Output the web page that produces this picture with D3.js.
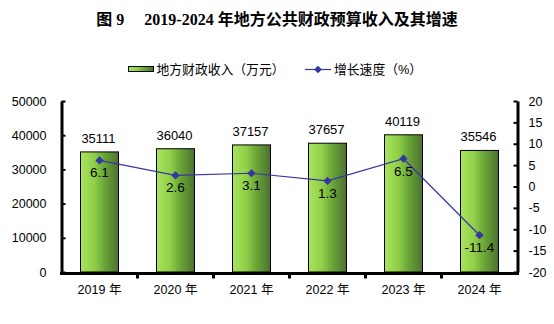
<!DOCTYPE html>
<html>
<head>
<meta charset="utf-8">
<script src="https://cdn.jsdelivr.net/npm/d3@7"></script>
<style>
  html, body { margin: 0; padding: 0; background: #fff; }
  svg { display: block; }
</style>
</head>
<body>
<svg id="chart" width="554" height="324"></svg>
<script>
// Local general public budget revenue (10k yuan) and its growth rate (%)
const years = ["2019 年", "2020 年", "2021 年", "2022 年", "2023 年", "2024 年"];
const revenue = [35111, 36040, 37157, 37657, 40119, 35546];
const growth = [6.1, 2.6, 3.1, 1.3, 6.5, -11.4];
const leftTicks = [0, 10000, 20000, 30000, 40000, 50000];
const rightTicks = [-20, -15, -10, -5, 0, 5, 10, 15, 20];

const titleText = "图 9\u3000\u00a02019-2024 年地方公共财政预算收入及其增速";
const legendBar = "地方财政收入（万元）";
const legendLine = "增长速度（%）";

const latin = "'Liberation Sans', Arial, 'Noto Sans CJK SC', sans-serif";
const serif = "'Liberation Serif', 'Noto Sans CJK SC', serif";
const lineColor = "#3535a5";
const plain = d => String(d);

const svg = d3.select("#chart");

// gradient for the bars
const defs = svg.append("defs");
const grad = defs.append("linearGradient").attr("id", "barGrad")
  .attr("x1", "0%").attr("x2", "100%").attr("y1", "0%").attr("y2", "0%");
[["0%", "#a9e35d"], ["35%", "#92d04a"], ["62%", "#6aa737"], ["100%", "#4d7031"]]
  .forEach(([o, c]) => grad.append("stop").attr("offset", o).attr("stop-color", c));

// plot area
const plotLeft = 61.5, plotRight = 517.5, plotTop = 101, plotBottom = 272;

const x = d3.scaleBand().domain(years).range([plotLeft, plotRight])
  .paddingInner(0.5).paddingOuter(0.25);
const yL = d3.scaleLinear().domain([0, 50000]).range([plotBottom, plotTop]);
const yR = d3.scaleLinear().domain([-20, 20]).range([plotBottom, plotTop]);

// title
svg.append("text")
  .attr("x", 277).attr("y", 25)
  .attr("text-anchor", "middle")
  .attr("font-family", serif)
  .attr("font-weight", "bold")
  .attr("font-size", 16)
  .attr("fill", "#000")
  .text(titleText);

// legend
const lg = svg.append("g").attr("font-family", latin).attr("font-size", 12.8);
lg.append("rect").attr("x", 128.5).attr("y", 66.5).attr("width", 25).attr("height", 5)
  .attr("fill", "url(#barGrad)").attr("stroke", "#000").attr("stroke-width", 1);
lg.append("text").attr("x", 156.5).attr("y", 73.5).text(legendBar);
lg.append("line").attr("x1", 305).attr("x2", 331).attr("y1", 69.5).attr("y2", 69.5)
  .attr("stroke", lineColor).attr("stroke-width", 1.2);
lg.append("path").attr("transform", "translate(318,69.5) rotate(45)")
  .attr("d", d3.symbol().type(d3.symbolSquare).size(30)())
  .attr("fill", lineColor);
lg.append("text").attr("x", 334).attr("y", 73.5).text(legendLine);

// bars
svg.append("g").selectAll("rect")
  .data(revenue)
  .join("rect")
  .attr("x", (d, i) => x(years[i]))
  .attr("y", d => yL(d))
  .attr("width", x.bandwidth())
  .attr("height", d => yL(0) - yL(d))
  .attr("fill", "url(#barGrad)")
  .attr("stroke", "#000")
  .attr("stroke-width", 1);

// bar value labels
svg.append("g").attr("font-family", latin).attr("font-size", 13).attr("text-anchor", "middle")
  .selectAll("text")
  .data(revenue)
  .join("text")
  .attr("x", (d, i) => x(years[i]) + x.bandwidth() / 2 - 1)
  .attr("y", d => yL(d) - 9)
  .text(d => d);

// left axis
const axL = svg.append("g").attr("transform", `translate(${plotLeft},0)`)
  .call(d3.axisLeft(yL).tickValues(leftTicks).tickFormat(plain)
    .tickSizeInner(-4).tickSizeOuter(0).tickPadding(15));
axL.select(".domain").attr("stroke", "#000").attr("stroke-width", 3);
axL.selectAll(".tick line").attr("stroke", "#000").attr("stroke-width", 2);
axL.selectAll(".tick text").attr("font-family", latin).attr("font-size", 12.5).attr("fill", "#000");

// right axis
const axR = svg.append("g").attr("transform", `translate(${plotRight},0)`)
  .call(d3.axisRight(yR).tickValues(rightTicks).tickFormat(plain)
    .tickSizeInner(-4).tickSizeOuter(0).tickPadding(11));
axR.select(".domain").attr("stroke", "#000").attr("stroke-width", 3);
axR.selectAll(".tick line").attr("stroke", "#000").attr("stroke-width", 2);
axR.selectAll(".tick text").attr("font-family", latin).attr("font-size", 12.5).attr("fill", "#000");

// bottom axis: labels centred on bars, ticks on category boundaries
const axB = svg.append("g").attr("transform", `translate(0,${plotBottom + 1.5})`)
  .call(d3.axisBottom(x).tickSize(0).tickPadding(12));
axB.select(".domain").attr("d", `M${plotLeft - 1.5},0H${plotRight + 1.5}`)
  .attr("stroke", "#000").attr("stroke-width", 3);
axB.selectAll(".tick text").attr("font-family", latin).attr("font-size", 12.5).attr("fill", "#000");
axB.append("g").selectAll("line")
  .data(years.slice(1))
  .join("line")
  .attr("x1", d => x(d) - x.step() * x.paddingInner() / 2)
  .attr("x2", d => x(d) - x.step() * x.paddingInner() / 2)
  .attr("y1", 0).attr("y2", 5)
  .attr("stroke", "#000").attr("stroke-width", 3);

// growth line
const cx = (d, i) => x(years[i]) + x.bandwidth() / 2;
svg.append("path")
  .datum(growth)
  .attr("d", d3.line().x(cx).y(d => yR(d)))
  .attr("fill", "none")
  .attr("stroke", lineColor)
  .attr("stroke-width", 1.2);

svg.append("g").selectAll("path")
  .data(growth)
  .join("path")
  .attr("transform", (d, i) => `translate(${cx(d, i)},${yR(d)}) rotate(45)`)
  .attr("d", d3.symbol().type(d3.symbolSquare).size(34)())
  .attr("fill", lineColor);

svg.append("g").attr("font-family", latin).attr("font-size", 13.5).attr("text-anchor", "middle")
  .selectAll("text")
  .data(growth)
  .join("text")
  .attr("x", (d, i) => cx(d, i))
  .attr("y", d => yR(d) + 17)
  .text(d => d.toFixed(1));
</script>
</body>
</html>
